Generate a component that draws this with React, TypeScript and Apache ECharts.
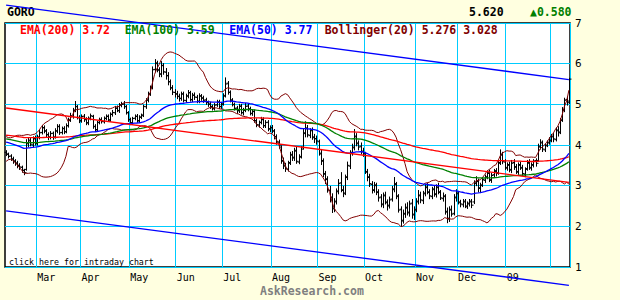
import React, { useEffect, useRef } from "react";
import * as echarts from "echarts";

// ---- header / legend texts ----
const TICKER = "GORO";
const LAST_PRICE = "5.620";
const CHANGE = "\u25B20.580";
const LEGEND_ITEMS = ["EMA(200) 3.72", "EMA(100) 3.59", "EMA(50) 3.77", "Bollinger(20) 5.276 3.028"];
const LEGEND_COLORS = ["#FF0000", "#008000", "#0000FF", "#800000"];

// ---- x axis: first trading day of each month (index into the daily bars) ----
const MONTH_START_IDX = [14, 34, 56, 77, 98, 120, 141, 162, 185, 204, 226, 246];
const MONTH_LABELS = ["Mar", "Apr", "May", "Jun", "Jul", "Aug", "Sep", "Oct", "Nov", "Dec", "09", ""];

// ---- y axis ----
const Y_MIN = 1;
const Y_MAX = 7;

// ---- daily bars (Feb 2008 – Feb 2009) ----
const OPEN = [
  3.82, 3.77, 3.73, 3.65, 3.61, 3.56, 3.50, 3.45, 3.37, 3.40,
  4.03, 4.12, 4.00, 4.16, 4.04, 4.20, 4.31, 4.43, 4.34, 4.26,
  4.19, 4.29, 4.20, 4.34, 4.46, 4.31, 4.41, 4.33, 4.47, 4.62,
  4.70, 4.86, 4.94, 4.67, 4.59, 4.71, 4.63, 4.54, 4.66, 4.70,
  4.46, 4.37, 4.56, 4.63, 4.57, 4.66, 4.71, 4.61, 4.76, 4.79,
  4.91, 4.84, 4.99, 5.01, 4.94, 4.79, 4.63, 4.54, 4.66, 4.71,
  4.59, 4.69, 4.74, 4.94, 5.11, 5.26, 5.42, 5.86, 6.02, 5.84,
  5.74, 5.96, 5.79, 5.71, 5.56, 5.41, 5.29, 5.26, 5.19, 5.14,
  5.26, 5.09, 5.21, 5.29, 5.11, 5.23, 5.17, 5.07, 5.21, 5.16,
  5.11, 5.04, 5.01, 4.94, 4.89, 4.99, 5.06, 4.94, 5.01, 5.22,
  5.52, 5.29, 5.11, 4.99, 4.91, 4.84, 4.96, 4.79, 4.86, 4.96,
  4.89, 4.77, 4.83, 4.59, 4.49, 4.56, 4.63, 4.47, 4.56, 4.39,
  4.43, 4.34, 4.21, 4.07, 3.95, 3.62, 3.48, 3.40, 3.57, 3.77,
  3.68, 3.87, 3.58, 3.72, 3.95, 4.28, 4.42, 4.23, 4.37, 4.18,
  4.16, 4.08, 3.78, 3.62, 3.28, 3.17, 2.88, 2.72, 2.43, 2.62,
  2.87, 3.07, 2.88, 2.82, 3.22, 3.48, 3.82, 3.93, 4.22, 4.03,
  3.97, 3.83, 3.78, 3.33, 3.22, 3.03, 2.88, 3.02, 2.83, 2.72,
  2.53, 2.77, 2.58, 2.52, 2.67, 2.92, 3.03, 2.73, 2.42, 2.13,
  2.32, 2.47, 2.33, 2.57, 2.28, 2.42, 2.62, 2.77, 2.63, 2.82,
  2.97, 2.83, 2.73, 2.92, 2.78, 2.97, 2.83, 2.68, 2.73, 2.37,
  2.18, 2.42, 2.32, 2.72, 2.82, 2.58, 2.53, 2.62, 2.48, 2.57,
  2.62, 2.60, 3.07, 3.12, 2.93, 3.02, 3.13, 3.22, 3.32, 3.13,
  3.27, 3.37, 3.32, 3.57, 3.77, 3.58, 3.43, 3.52, 3.38, 3.57,
  3.47, 3.33, 3.52, 3.43, 3.28, 3.42, 3.57, 3.43, 3.52, 3.62,
  3.62, 3.97, 4.07, 3.88, 4.00, 4.07, 4.12, 4.22, 4.13, 4.37,
  4.32, 4.62, 4.87, 5.12, 5.08,
];
const HIGH = [
  3.86, 3.80, 3.76, 3.70, 3.64, 3.60, 3.54, 3.48, 3.40, 4.13,
  4.18, 4.16, 4.20, 4.22, 4.24, 4.36, 4.48, 4.47, 4.38, 4.30,
  4.33, 4.32, 4.40, 4.50, 4.50, 4.44, 4.45, 4.52, 4.66, 4.78,
  4.90, 5.07, 4.97, 4.72, 4.74, 4.75, 4.67, 4.69, 4.76, 4.73,
  4.50, 4.58, 4.66, 4.67, 4.69, 4.74, 4.74, 4.79, 4.85, 4.95,
  4.96, 5.02, 5.05, 5.07, 4.97, 4.82, 4.66, 4.68, 4.74, 4.75,
  4.72, 4.76, 4.98, 5.14, 5.30, 5.45, 5.92, 6.10, 6.06, 5.90,
  6.05, 6.00, 5.88, 5.78, 5.60, 5.46, 5.36, 5.32, 5.25, 5.30,
  5.30, 5.25, 5.34, 5.32, 5.27, 5.28, 5.22, 5.26, 5.24, 5.20,
  5.15, 5.08, 5.05, 4.98, 5.02, 5.10, 5.10, 5.05, 5.26, 5.65,
  5.56, 5.33, 5.14, 5.03, 4.95, 5.00, 5.00, 4.90, 5.02, 5.00,
  4.93, 4.87, 4.86, 4.64, 4.59, 4.68, 4.67, 4.60, 4.60, 4.47,
  4.48, 4.38, 4.25, 4.12, 3.98, 3.68, 3.55, 3.60, 3.82, 3.84,
  3.92, 3.94, 3.76, 3.96, 4.38, 4.57, 4.48, 4.40, 4.42, 4.26,
  4.22, 4.12, 3.89, 3.66, 3.35, 3.22, 2.98, 2.80, 2.68, 2.92,
  3.15, 3.32, 2.98, 3.26, 3.58, 3.86, 4.02, 4.38, 4.28, 4.10,
  4.05, 3.92, 3.82, 3.40, 3.28, 3.10, 3.08, 3.06, 2.90, 2.78,
  2.82, 2.84, 2.65, 2.72, 2.98, 3.20, 3.08, 2.78, 2.48, 2.40,
  2.55, 2.58, 2.62, 2.66, 2.48, 2.68, 2.88, 2.84, 2.86, 3.02,
  3.05, 2.90, 2.96, 2.98, 3.02, 3.06, 2.88, 2.82, 2.78, 2.45,
  2.48, 2.50, 2.78, 2.90, 2.86, 2.64, 2.66, 2.66, 2.60, 2.66,
  2.66, 3.12, 3.22, 3.16, 3.06, 3.20, 3.26, 3.36, 3.38, 3.30,
  3.40, 3.42, 3.62, 3.88, 3.82, 3.64, 3.56, 3.58, 3.62, 3.64,
  3.52, 3.56, 3.58, 3.50, 3.44, 3.62, 3.64, 3.56, 3.64, 3.66,
  4.02, 4.13, 4.10, 4.02, 4.10, 4.18, 4.26, 4.28, 4.42, 4.45,
  4.65, 4.92, 5.15, 5.18, 5.64,
];
const LOW = [
  3.74, 3.68, 3.62, 3.55, 3.50, 3.44, 3.40, 3.33, 3.27, 3.38,
  3.96, 3.98, 3.95, 4.00, 4.00, 4.15, 4.27, 4.30, 4.20, 4.13,
  4.15, 4.14, 4.17, 4.30, 4.26, 4.27, 4.28, 4.30, 4.44, 4.58,
  4.66, 4.82, 4.64, 4.55, 4.56, 4.58, 4.50, 4.50, 4.62, 4.41,
  4.33, 4.34, 4.52, 4.54, 4.54, 4.62, 4.58, 4.58, 4.71, 4.75,
  4.82, 4.80, 4.94, 4.90, 4.76, 4.58, 4.50, 4.51, 4.62, 4.56,
  4.55, 4.65, 4.70, 4.90, 5.06, 5.22, 5.38, 5.80, 5.80, 5.68,
  5.68, 5.74, 5.62, 5.48, 5.36, 5.24, 5.18, 5.14, 5.08, 5.10,
  5.06, 5.05, 5.16, 5.08, 5.07, 5.12, 5.04, 5.04, 5.10, 5.05,
  5.00, 4.95, 4.90, 4.86, 4.86, 4.95, 4.90, 4.90, 4.98, 5.18,
  5.25, 5.06, 4.96, 4.86, 4.78, 4.80, 4.76, 4.74, 4.82, 4.84,
  4.74, 4.73, 4.56, 4.45, 4.44, 4.52, 4.43, 4.43, 4.35, 4.33,
  4.30, 4.15, 4.02, 3.92, 3.55, 3.42, 3.35, 3.36, 3.52, 3.62,
  3.62, 3.55, 3.54, 3.68, 3.90, 4.20, 4.20, 4.18, 4.14, 4.06,
  4.02, 3.75, 3.52, 3.22, 3.05, 2.84, 2.60, 2.34, 2.36, 2.55,
  2.80, 2.85, 2.73, 2.78, 3.15, 3.42, 3.75, 3.88, 3.98, 3.88,
  3.78, 3.72, 3.30, 3.12, 2.98, 2.82, 2.84, 2.78, 2.62, 2.48,
  2.46, 2.55, 2.40, 2.45, 2.62, 2.85, 2.68, 2.35, 2.00, 2.08,
  2.22, 2.28, 2.25, 2.20, 2.17, 2.36, 2.55, 2.58, 2.56, 2.75,
  2.80, 2.68, 2.68, 2.74, 2.72, 2.80, 2.66, 2.62, 2.30, 2.09,
  2.12, 2.25, 2.28, 2.62, 2.55, 2.48, 2.48, 2.46, 2.44, 2.50,
  2.46, 2.56, 3.00, 2.85, 2.83, 2.98, 3.08, 3.17, 3.10, 3.08,
  3.22, 3.24, 3.28, 3.52, 3.54, 3.40, 3.38, 3.34, 3.32, 3.40,
  3.30, 3.28, 3.40, 3.25, 3.22, 3.38, 3.40, 3.38, 3.46, 3.48,
  3.60, 3.90, 3.84, 3.84, 3.96, 4.02, 4.08, 4.08, 4.10, 4.22,
  4.28, 4.58, 4.82, 4.98, 5.02,
];
const CLOSE = [
  3.78, 3.72, 3.66, 3.60, 3.55, 3.50, 3.46, 3.38, 3.32, 4.05,
  4.10, 4.02, 4.15, 4.05, 4.18, 4.30, 4.42, 4.35, 4.25, 4.20,
  4.28, 4.18, 4.35, 4.45, 4.30, 4.40, 4.32, 4.48, 4.60, 4.72,
  4.85, 4.95, 4.68, 4.60, 4.70, 4.62, 4.55, 4.65, 4.72, 4.45,
  4.38, 4.55, 4.62, 4.58, 4.65, 4.70, 4.62, 4.75, 4.80, 4.90,
  4.85, 4.98, 5.00, 4.95, 4.80, 4.62, 4.55, 4.65, 4.70, 4.60,
  4.68, 4.72, 4.95, 5.10, 5.25, 5.40, 5.85, 6.00, 5.85, 5.75,
  5.95, 5.80, 5.70, 5.55, 5.40, 5.30, 5.25, 5.20, 5.15, 5.25,
  5.10, 5.20, 5.28, 5.12, 5.22, 5.18, 5.08, 5.20, 5.15, 5.10,
  5.05, 5.00, 4.95, 4.90, 4.98, 5.05, 4.95, 5.00, 5.20, 5.50,
  5.30, 5.10, 5.00, 4.90, 4.85, 4.95, 4.80, 4.85, 4.95, 4.88,
  4.78, 4.82, 4.60, 4.50, 4.55, 4.62, 4.48, 4.55, 4.40, 4.42,
  4.35, 4.20, 4.08, 4.00, 3.60, 3.50, 3.42, 3.55, 3.75, 3.70,
  3.85, 3.60, 3.70, 3.90, 4.30, 4.40, 4.25, 4.35, 4.20, 4.15,
  4.10, 3.80, 3.60, 3.30, 3.15, 2.90, 2.70, 2.45, 2.60, 2.85,
  3.05, 2.90, 2.80, 3.20, 3.50, 3.80, 3.95, 4.20, 4.05, 3.95,
  3.85, 3.80, 3.35, 3.20, 3.05, 2.90, 3.00, 2.85, 2.70, 2.55,
  2.75, 2.60, 2.50, 2.65, 2.90, 3.05, 2.75, 2.40, 2.15, 2.30,
  2.45, 2.35, 2.55, 2.30, 2.40, 2.60, 2.75, 2.65, 2.80, 2.95,
  2.85, 2.75, 2.90, 2.80, 2.95, 2.85, 2.70, 2.75, 2.35, 2.20,
  2.40, 2.30, 2.70, 2.80, 2.60, 2.55, 2.60, 2.50, 2.55, 2.60,
  2.52, 3.05, 3.10, 2.95, 3.00, 3.15, 3.20, 3.30, 3.15, 3.25,
  3.35, 3.30, 3.55, 3.75, 3.60, 3.45, 3.50, 3.40, 3.55, 3.45,
  3.35, 3.50, 3.45, 3.30, 3.40, 3.55, 3.45, 3.50, 3.60, 3.55,
  3.95, 4.05, 3.90, 3.98, 4.05, 4.10, 4.20, 4.15, 4.35, 4.30,
  4.60, 4.85, 5.10, 5.04, 5.62,
];
// closes of the 19 sessions before the first bar (for the 20-day Bollinger window)
const PRE_CLOSE = [3.55, 3.62, 3.70, 3.80, 3.92, 4.05, 4.10, 4.02, 3.95, 4.08, 4.12, 4.05, 3.98, 3.90, 3.95, 3.88, 3.85, 3.90, 3.84];

// indicator starting values (read from the left edge)
const EMA200_START = 4.24;
const EMA100_START = 4.15;
const EMA50_START = 4.07;
// linear-regression channel: centre at first and last bar, and half-width
const REG_START = 4.91;
const REG_END = 3.08;
const CHANNEL_HALF = 2.53;

const CATEGORIES = CLOSE.map((_, i) => String(i));

function ema(values: number[], period: number, seed: number): number[] {
  const k = 2 / (period + 1);
  const out: number[] = [];
  let prev = seed;
  values.forEach((v, i) => {
    prev = i === 0 ? seed : prev + k * (v - prev);
    out.push(+prev.toFixed(4));
  });
  return out;
}

function bollinger(pre: number[], values: number[], period: number) {
  const all = pre.concat(values);
  const up: number[] = [];
  const lo: number[] = [];
  for (let i = pre.length; i < all.length; i++) {
    const w = all.slice(Math.max(0, i - period + 1), i + 1);
    const m = w.reduce((a, b) => a + b, 0) / w.length;
    const sd = Math.sqrt(w.reduce((a, b) => a + (b - m) * (b - m), 0) / w.length);
    up.push(+(m + 2 * sd).toFixed(4));
    lo.push(+(m - 2 * sd).toFixed(4));
  }
  return { up, lo };
}

const MONO = '"DejaVu Sans Mono", "Liberation Mono", monospace';

export default function App() {
  const ref = useRef<HTMLDivElement>(null);

  useEffect(() => {
    if (!ref.current) return;
    const chart = echarts.init(ref.current, undefined, { renderer: "svg" });

    const ohlc = CLOSE.map((c, i) => [i, OPEN[i], HIGH[i], LOW[i], c]);
    const e200 = ema(CLOSE, 200, EMA200_START);
    const e100 = ema(CLOSE, 100, EMA100_START);
    const e50 = ema(CLOSE, 50, EMA50_START);
    const bb = bollinger(PRE_CLOSE, CLOSE, 20);
    const lastIdx = CLOSE.length - 1;
    const isMonthStart = (i: number) => MONTH_START_IDX.indexOf(i) >= 0;

    const legendX = [20, 124.7, 229.3, 324.7];

    const lineSeries = (data: any[], color: string, width: number, extra: any = {}) => ({
      type: "line",
      data,
      showSymbol: false,
      symbol: "none",
      silent: true,
      lineStyle: { color, width },
      ...extra,
    });

    chart.setOption({
      animation: false,
      backgroundColor: "#FFFFE0",
      grid: {
        left: 5,
        top: 23,
        width: 565,
        height: 244,
        show: true,
        backgroundColor: "#FFFFFF",
        borderColor: "#000000",
        borderWidth: 1.5,
      },
      xAxis: {
        type: "category",
        data: CATEGORIES,
        boundaryGap: true,
        axisLine: { show: false },
        axisTick: { show: false },
        splitLine: {
          show: true,
          interval: (i: number) => isMonthStart(i),
          lineStyle: { color: "#00CCFF", width: 1 },
        },
        axisLabel: {
          interval: (i: number) => isMonthStart(i),
          formatter: (_v: string, i: number) => MONTH_LABELS[MONTH_START_IDX.indexOf(i)] || "",
          align: "left",
          margin: 5,
          color: "#000000",
          fontFamily: MONO,
          fontSize: 10,
        },
      },
      yAxis: {
        type: "value",
        position: "right",
        min: Y_MIN,
        max: Y_MAX,
        interval: 1,
        axisLine: { show: false },
        axisTick: { show: false },
        splitLine: { show: true, lineStyle: { color: "#00CCFF", width: 1 } },
        axisLabel: { margin: 5, color: "#000000", fontFamily: MONO, fontSize: 11 },
      },
      graphic: [
        { type: "text", x: 7, y: 12, style: { text: TICKER, fill: "#000", font: `bold 11.5px ${MONO}`, verticalAlign: "middle" } },
        { type: "text", x: 469, y: 12, style: { text: LAST_PRICE, fill: "#000", font: `bold 11.5px ${MONO}`, verticalAlign: "middle" } },
        { type: "text", x: 530, y: 12, style: { text: CHANGE, fill: "#008000", font: `bold 11.5px ${MONO}`, verticalAlign: "middle" } },
        ...LEGEND_ITEMS.map((t, k) => ({
          type: "text",
          x: legendX[k],
          y: 29.5,
          z: 100,
          style: { text: t, fill: LEGEND_COLORS[k], font: `bold 11.5px ${MONO}`, verticalAlign: "middle" },
        })),
        { type: "text", x: 9, y: 262, z: 100, style: { text: "click here for intraday chart", fill: "#000", font: `8.3px ${MONO}`, verticalAlign: "middle" } },
        { type: "text", x: 260, y: 291, style: { text: "AskResearch.com", fill: "#808080", font: `bold 11.5px ${MONO}`, verticalAlign: "middle" } },
      ],
      series: [
        {
          type: "custom",
          data: ohlc,
          silent: true,
          encode: { x: 0, y: [2, 3] },
          renderItem: (_p: any, api: any) => {
            const i = api.value(0);
            const x = Math.round(api.coord([i, api.value(2)])[0]) + 0.5;
            const yH = api.coord([i, api.value(2)])[1];
            const yL = api.coord([i, api.value(3)])[1];
            const yO = api.coord([i, api.value(1)])[1];
            const yC = api.coord([i, api.value(4)])[1];
            const st = { stroke: "#000000", lineWidth: 1 };
            return {
              type: "group",
              children: [
                { type: "line", shape: { x1: x, y1: yH - 0.5, x2: x, y2: yL + 0.5 }, style: st },
                { type: "line", shape: { x1: x - 2, y1: yO, x2: x, y2: yO }, style: st },
                { type: "line", shape: { x1: x, y1: yC, x2: x + 2, y2: yC }, style: st },
              ],
            };
          },
        },
        lineSeries(bb.up, "#800000", 1),
        lineSeries(bb.lo, "#800000", 1),
        lineSeries(e200, "#FF0000", 1.3),
        lineSeries(e100, "#008000", 1.3),
        lineSeries(e50, "#0000FF", 1.3),
        lineSeries([[0, REG_START], [lastIdx, REG_END]], "#FF0000", 1.3),
        lineSeries([[0, REG_START + CHANNEL_HALF], [lastIdx, REG_END + CHANNEL_HALF]], "#0000FF", 1.3, { clip: false }),
        lineSeries([[0, REG_START - CHANNEL_HALF], [lastIdx, REG_END - CHANNEL_HALF]], "#0000FF", 1.3, { clip: false }),
      ],
    });

    return () => chart.dispose();
  }, []);

  return (
    <div
      ref={ref}
      style={{ position: "fixed", left: 0, top: 0, width: 620, height: 300 }}
    />
  );
}
